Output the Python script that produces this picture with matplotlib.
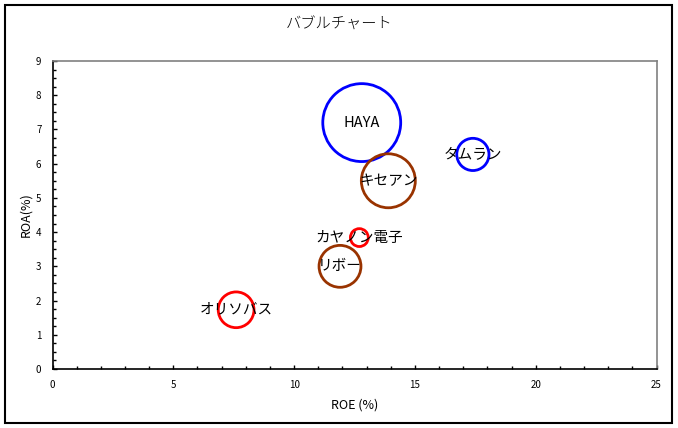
import matplotlib
matplotlib.use("Agg")
import matplotlib.pyplot as plt
from matplotlib.ticker import MultipleLocator
from matplotlib.patches import Rectangle
import numpy as np

plt.rcParams['font.family'] = ['Noto Sans CJK JP', 'DejaVu Sans']

companies = ["HAYA", "タムラン", "キセアン", "カヤノン電子", "リボー", "オリソバス"]
roe = [12.8, 17.4, 13.9, 12.7, 11.9, 7.6]
roa = [7.2, 6.27, 5.5, 3.84, 3.0, 1.73]
bubble_size = [152, 26, 73, 8, 44, 32]
colors = ["#0000ff", "#0000ff", "#993300", "#ff0000", "#993300", "#ff0000"]

title = "バブルチャート"
xlabel = "ROE (%)"
ylabel = "ROA(%)"

fig = plt.figure(figsize=(6.78, 4.28), dpi=100)
W, H = 678, 428
ax = fig.add_axes([52.5 / W, 1 - 369 / H, (656.5 - 52.5) / W, (369 - 61) / H])

s = np.array(bubble_size) * 20.7
ax.scatter(roe, roa, s=s, facecolors='none', edgecolors=colors, linewidths=2, zorder=3)
for name, x, y in zip(companies, roe, roa):
    ax.text(x, y, name, ha='center', va='center', fontsize=10.5, color='black', zorder=4)

ax.set_xlim(0, 25)
ax.set_ylim(0, 9)
ax.xaxis.set_major_locator(MultipleLocator(5))
ax.xaxis.set_minor_locator(MultipleLocator(1))
ax.yaxis.set_major_locator(MultipleLocator(1))
ax.yaxis.set_minor_locator(MultipleLocator(0.25))
ax.tick_params(which='both', direction='in', labelsize=7, pad=8, color='black')
ax.tick_params(which='major', length=3, width=1)
ax.tick_params(which='minor', length=2, width=1)
ax.tick_params(axis='y', pad=8)
for sp in ['left', 'bottom']:
    ax.spines[sp].set_color('black')
    ax.spines[sp].set_linewidth(1.2)
for sp in ['top', 'right']:
    ax.spines[sp].set_color('#808080')
    ax.spines[sp].set_linewidth(1.2)

ax.set_xlabel(xlabel, fontsize=9, labelpad=6)
ax.set_ylabel(ylabel, fontsize=9)
ax.yaxis.set_label_coords(-0.033, 0.5)
fig.text(339 / W, 1 - 25 / H, title, ha='center', va='center', fontsize=11, fontweight='light')

fig.patches.append(Rectangle((5 / W, 5 / H), 667 / W, 418 / H, transform=fig.transFigure,
                             fill=False, edgecolor='black', linewidth=1.5))

fig.savefig("out.png", dpi=100)
